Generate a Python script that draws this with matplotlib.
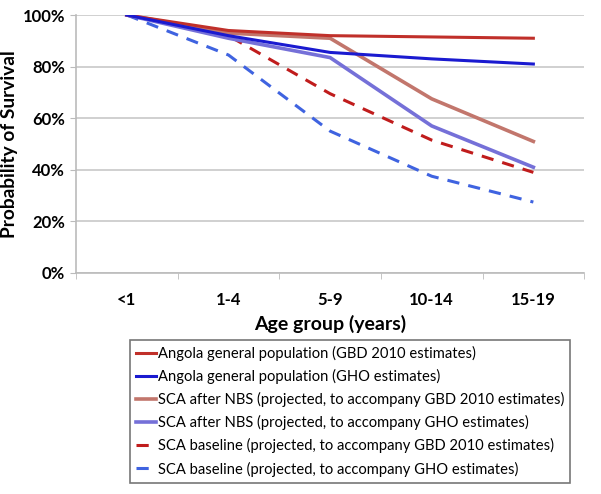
import matplotlib
matplotlib.use("Agg")
import matplotlib.pyplot as plt
import numpy as np

plt.rcParams['font.family'] = ['Lato', 'DejaVu Sans']

age_groups = ["<1", "1-4", "5-9", "10-14", "15-19"]

gbd_general = [100, 94, 92, 91.5, 91]
gho_general = [100, 92, 85.5, 83, 81]
sca_nbs_gbd = [100, 93, 91, 67.5, 51]
sca_nbs_gho = [100, 91, 83.5, 57, 41]
sca_base_gbd = [100, 92, 69.5, 51.5, 39]
sca_base_gho = [100, 84.5, 55, 37.5, 27.5]

labels = [
    "Angola general population (GBD 2010 estimates)",
    "Angola general population (GHO estimates)",
    "SCA after NBS (projected, to accompany GBD 2010 estimates)",
    "SCA after NBS (projected, to accompany GHO estimates)",
    "SCA baseline (projected, to accompany GBD 2010 estimates)",
    "SCA baseline (projected, to accompany GHO estimates)",
]

fig = plt.figure(figsize=(6.01, 4.94), dpi=100)
ax = fig.add_axes([0.1265, 0.4474, 0.8455, 0.5222])

x = np.arange(len(age_groups))

ax.plot(x, gbd_general, color="#c0302a", lw=2.2, label=labels[0], zorder=5)
ax.plot(x, gho_general, color="#1a1ad0", lw=2.2, label=labels[1], zorder=5)
ax.plot(x, sca_nbs_gbd, color="#c2766c", lw=2.6, label=labels[2], zorder=4)
ax.plot(x, sca_nbs_gho, color="#7570d8", lw=2.6, label=labels[3], zorder=4)
ax.plot(x, sca_base_gbd, color="#c01c1c", lw=2.2, ls=(0, (4, 3)), label=labels[4], zorder=3)
ax.plot(x, sca_base_gho, color="#3f63e0", lw=2.2, ls=(0, (4, 3)), label=labels[5], zorder=3)

ax.set_xlim(-0.5, len(age_groups) - 0.5)
ax.set_ylim(0, 100)
ax.set_yticks(np.arange(0, 101, 20))
ax.set_yticklabels([f"{v}%" for v in range(0, 101, 20)], fontsize=12, fontweight="bold")
ax.set_xticks(x)
ax.set_xticklabels(age_groups, fontsize=12, fontweight="bold")
ax.set_xticks(np.arange(-0.5, len(age_groups)), minor=True)
ax.tick_params(axis="x", which="major", length=0, pad=14)
ax.tick_params(axis="x", which="minor", length=4, color="#bbbbbb")
ax.tick_params(axis="y", length=4, color="#bbbbbb", pad=4)

ax.grid(axis="y", color="#c8c8c8", lw=1.2)
ax.set_axisbelow(True)
for s in ["top", "right"]:
    ax.spines[s].set_visible(False)
for s in ["left", "bottom"]:
    ax.spines[s].set_color("#bbbbbb")
    ax.spines[s].set_linewidth(1.2)

ax.set_ylabel("Probability of Survival", fontsize=13.8, fontweight="bold", labelpad=3)
ax.set_xlabel("Age group (years)", fontsize=14, fontweight="bold", labelpad=5)

leg = fig.legend(loc="upper left", bbox_to_anchor=(0.216, 0.312), fontsize=10.6,
                 handlelength=1.4, handletextpad=0.1, labelspacing=0.55,
                 borderpad=0.4, frameon=True, fancybox=False, borderaxespad=0)
leg.get_frame().set_edgecolor("#555555")
leg.get_frame().set_linewidth(1.2)

fig.savefig("out.png", dpi=100)
